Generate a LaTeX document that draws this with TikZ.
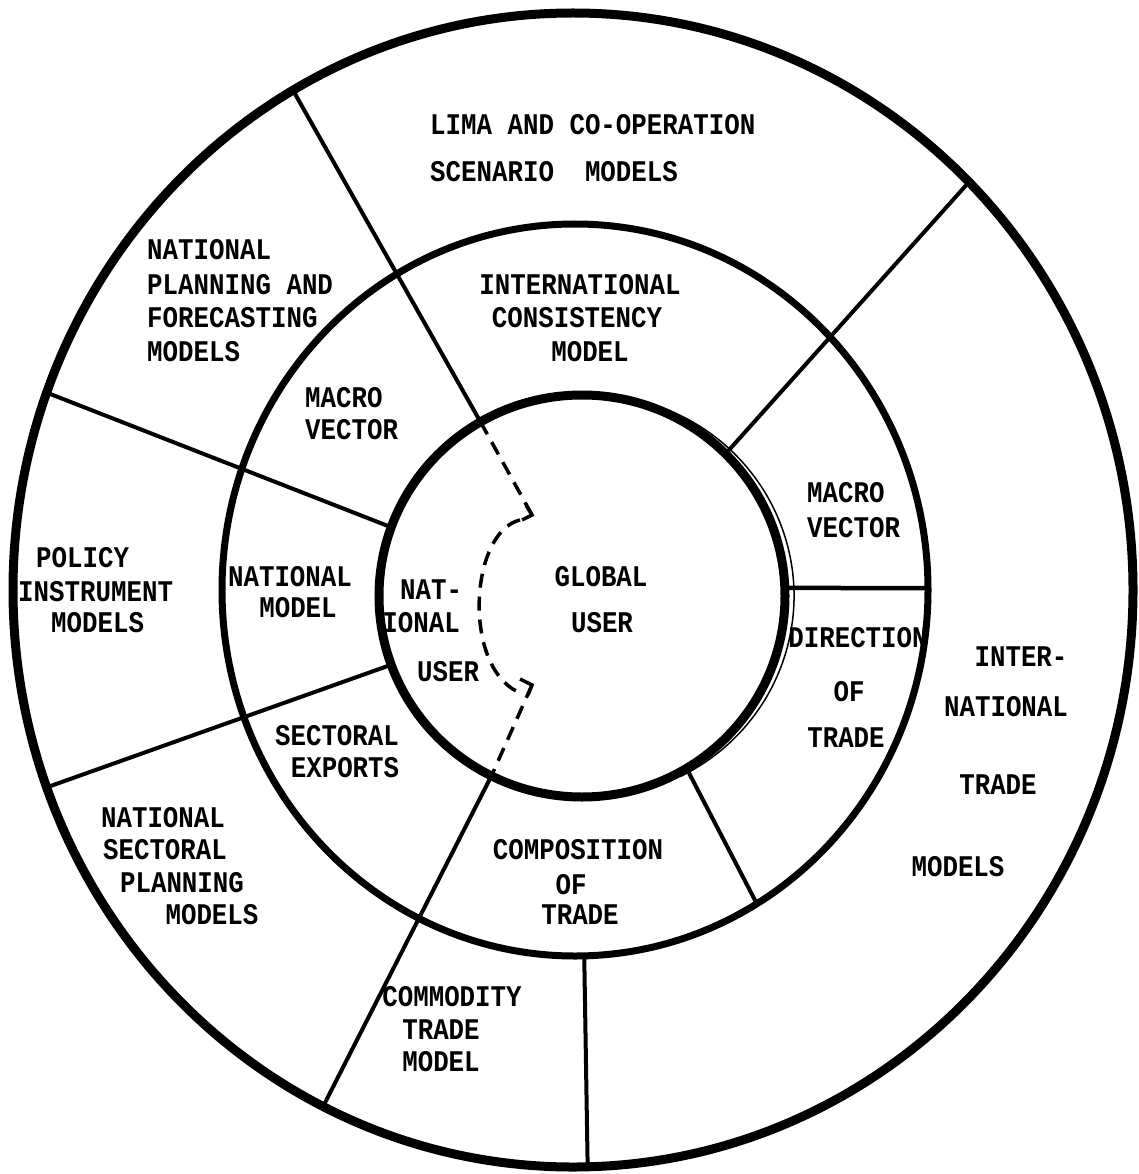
\documentclass[tikz,border=0pt]{standalone}
\usepackage{fontspec}
\newfontfamily\typewriter[FakeStretch=0.86]{Liberation Mono}
\usetikzlibrary{calc}

\begin{document}
\begin{tikzpicture}[x=1pt,y=1pt,
  lbl/.style={font=\typewriter\bfseries\fontsize{30}{33}\selectfont, inner sep=0pt},
  ring/.style={line width=#1, draw=black},
  divider/.style={line width=4pt, draw=black},
  flow/.style={line width=3.5pt, dash pattern=on 14pt off 9pt, line cap=butt}
]
% page
\useasboundingbox (0,0) rectangle (1138,-1174);
\fill[white] (0,0) rectangle (1138,-1174);

% ring centres
\coordinate (Co) at (573,-590);
\coordinate (Cm) at (575,-590);
\coordinate (Ci) at (582,-596);

% ---------- labels, outer ring ----------
\node[lbl, anchor=west] (lima1) at (430,-125) {LIMA AND CO-OPERATION};
\node[lbl, anchor=west] (lima2) at (430,-172) {SCENARIO\ \ MODELS};

\node[lbl, anchor=west] (plan1) at (147,-250) {NATIONAL};
\node[lbl, anchor=west] (plan2) at (147,-285) {PLANNING AND};
\node[lbl, anchor=west] (plan3) at (147,-318) {FORECASTING};
\node[lbl, anchor=west] (plan4) at (147,-352) {MODELS};

\node[lbl, anchor=west] (pol1) at (36,-558) {POLICY};
\node[lbl, anchor=west] (pol2) at (18,-592) {INSTRUMENT};
\node[lbl, anchor=west] (pol3) at (51,-623) {MODELS};

\node[lbl] (nsp1) at (163,-818) {NATIONAL};
\node[lbl] (nsp2) at (165,-850) {SECTORAL};
\node[lbl] (nsp3) at (182,-883) {PLANNING};
\node[lbl] (nsp4) at (212,-915) {MODELS};

\node[lbl] (ctm1) at (452,-997) {COMMODITY};
\node[lbl] (ctm2) at (441,-1030) {TRADE};
\node[lbl] (ctm3) at (441,-1062) {MODEL};

\node[lbl] (itm1) at (1021,-657) {INTER-};
\node[lbl] (itm2) at (1006,-707) {NATIONAL};
\node[lbl] (itm3) at (998,-785) {TRADE};
\node[lbl] (itm4) at (958,-867) {MODELS};

% ---------- labels, middle ring ----------
\node[lbl] (icm1) at (580,-285) {INTERNATIONAL};
\node[lbl] (icm2) at (577,-318) {CONSISTENCY};
\node[lbl] (icm3) at (590,-352) {MODEL};

\node[lbl, anchor=west] (mvl1) at (305,-398) {MACRO};
\node[lbl, anchor=west] (mvl2) at (305,-430) {VECTOR};

\node[lbl] (nm1) at (290,-577) {NATIONAL};
\node[lbl] (nm2) at (298,-608) {MODEL};

\node[lbl] (sec1) at (337,-736) {SECTORAL};
\node[lbl] (sec2) at (345,-768) {EXPORTS};

\node[lbl] (cot1) at (578,-850) {COMPOSITION};
\node[lbl] (cot2) at (571,-885) {OF};
\node[lbl] (cot3) at (580,-915) {TRADE};

\node[lbl] (dot1) at (858,-638) {DIRECTION};
\node[lbl] (dot2) at (849,-692) {OF};
\node[lbl] (dot3) at (846,-738) {TRADE};

\node[lbl, anchor=west] (mvr1) at (807,-493) {MACRO};
\node[lbl, anchor=west] (mvr2) at (807,-528) {VECTOR};

% ---------- labels, centre ----------
\node[lbl, anchor=west] (nu1) at (400,-590) {NAT-};
\node[lbl, anchor=east] (nu2) at (460,-623) {IONAL};
\node[lbl, anchor=west] (nu3) at (417,-672) {USER};

\node[lbl] (gu1) at (601,-577) {GLOBAL};
\node[lbl] (gu2) at (602,-623) {USER};

% ---------- sector dividers ----------
\foreach \a in {45,120,160,200,243.5}
  \draw[divider] ($(Ci)+(\a:203 and 201)$) -- ($(Co)+(\a:560 and 577)$);
\draw[divider] ($(Cm)+(271.5:353 and 366)$) -- ($(Co)+(271.5:560 and 577)$);
\draw[divider] ($(Ci)+(301:203 and 201)$) -- ($(Cm)+(301:353 and 366)$);
\draw[divider, line width=4.5pt] ($(Ci)+(2.3:203 and 201)$) -- ($(Cm)+(0.3:353 and 366)$);

% ---------- national / global boundary ----------
\coordinate (k0) at ($(Ci)+(120:203 and 201)$);
\coordinate (k1) at (532,-515);
\coordinate (k2) at (532,-685);
\coordinate (k3) at ($(Ci)+(243.5:203 and 201)$);
\draw[flow] (k0) -- (k1);
\draw[flow] ($(k1)+(-12,-5)$) .. controls (470,-532) and (462,-665) .. ($(k2)+(-14,-7)$);
\draw[flow] (k2) -- (k3);
\draw[line width=3.5pt, line join=miter] ($(k1)+(-6,10)$) -- (k1) -- ($(k1)+(-10,-5)$);
\draw[line width=3.5pt, line join=miter] ($(k2)+(-12,6)$) -- (k2) -- ($(k2)+(-4,-10)$);

% ---------- rings ----------
\draw[ring=9pt] (Co) ellipse [x radius=560, y radius=577];
\draw[ring=7pt] (Cm) ellipse [x radius=353, y radius=366];
\draw[ring=9pt] (Ci) ellipse [x radius=203, y radius=201];
\draw[line width=1.5pt] ($(Ci)+(9,0)+(74:203 and 201)$)
  arc [start angle=74, end angle=-64, x radius=203, y radius=201];
\end{tikzpicture}
\end{document}
